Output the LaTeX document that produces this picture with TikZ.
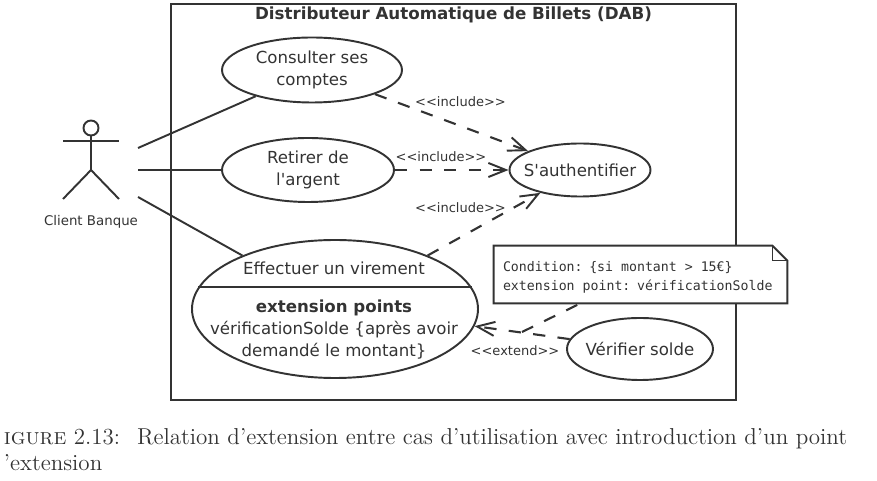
\documentclass[tikz,border=0pt]{standalone}
\usepackage{fontspec}
\newfontfamily\umlfont{DejaVu Sans}
\newfontfamily\notefont{DejaVu Sans Mono}
\usepackage{xcolor}
\usetikzlibrary{arrows.meta,calc,positioning,shapes.geometric}
\definecolor{inkc}{HTML}{333333}
\tikzset{%
	usecase/.style  = {draw=inkc, ellipse, line width=1.1pt, inner xsep=-6pt, inner ysep=0pt, align=center, font=\umlfont\fontsize{9.45}{12.5}\selectfont, text=inkc},
	system/.style   = {draw=inkc, rectangle, line width=1.1pt, inner sep=0pt},
	stereo/.style   = {font=\umlfont\fontsize{7.4}{9}\selectfont, text=inkc, inner sep=0pt}, % <<...>>
	notebox/.style  = {fill=white, rectangle, inner sep=0pt, align=left, font=\notefont\fontsize{7.53}{10.8}\selectfont, text=inkc},
	assoc/.style    = {draw=inkc, line width=1.1pt},
	depend/.style   = {draw=inkc, line width=1.2pt, dash pattern=on 7pt off 7pt, -{Straight Barb[length=10pt,width=8pt,line width=1.1pt]}},
	waypoint/.style = {coordinate},
}

\begin{document}
\begin{tikzpicture}[node distance=2.0cm,auto]
	\useasboundingbox (0,0) rectangle (17.54,-9.62);
	\node [system,minimum width=11.3cm,minimum height=7.92cm] (dab) at (9.07,-4.04) {};
	\node [inner sep=0pt,font=\umlfont\bfseries\fontsize{9.5}{12}\selectfont,text=inkc] (title) at (9.07,-0.29) {Distributeur Automatique de Billets (DAB)};

	% use cases
	\node [usecase,minimum width=3.44cm,minimum height=1.28cm] (retirer) at (6.16,-3.40) {Retirer de\\l'argent};
	\node [usecase,minimum width=3.6cm,minimum height=1.3cm,xshift=0.08cm] (consulter) [above of=retirer,node distance=2.0cm] {Consulter ses\\comptes};
	\node [usecase,minimum width=2.82cm,minimum height=1.06cm] (auth) [right of=retirer,node distance=5.44cm] {S'authentifier};
	\node [usecase,minimum width=5.72cm,minimum height=2.76cm,xshift=0.54cm] (virement) [below of=retirer,node distance=2.78cm] {};
	\node [usecase,minimum width=2.92cm,minimum height=1.24cm,xshift=1.2cm] (verifier) [below of=auth,node distance=3.58cm] {V\'erifier solde};

	\node [font=\umlfont\fontsize{9.45}{12.5}\selectfont,text=inkc,inner sep=0pt] (effectuer) at (6.68,-5.36) {Effectuer un virement};
	\node [align=center,font=\umlfont\fontsize{9.45}{12.5}\selectfont,text=inkc,inner sep=0pt] (points) at (6.68,-6.6) {\textbf{extension points}\\v\'erificationSolde \{apr\`es avoir\\demand\'e le montant\}};
	\draw [assoc] (virement.171) -- (virement.9);

	% actor
	\node [draw=inkc,circle,line width=1.1pt,minimum size=0.3cm,inner sep=0pt] (head) at (1.82,-2.56) {};
	\node [waypoint] (neck) at (1.82,-2.82) {};
	\node [waypoint] (armL) [left of=neck,node distance=0.56cm] {};
	\node [waypoint] (armR) [right of=neck,node distance=0.56cm] {};
	\node [waypoint] (hip) [below of=neck,node distance=0.58cm] {};
	\node [waypoint] (footL) at (1.26,-3.98) {};
	\node [waypoint] (footR) at (2.38,-3.98) {};
	\node [font=\umlfont\fontsize{7.6}{9}\selectfont,text=inkc,inner sep=0pt] (client) at (1.82,-4.44) {Client Banque};
	\draw [assoc] (head) -- (hip);
	\draw [assoc] (armL) -- (armR);
	\draw [assoc] (footL) -- (hip) -- (footR);

	\node [waypoint] (a1) at (2.76,-2.96) {};
	\node [waypoint] (a2) at (2.76,-3.40) {};
	\node [waypoint] (a3) at (2.76,-3.94) {};
	\draw [assoc] (a1) -- (consulter.-155);
	\draw [assoc] (a2) -- (retirer);
	\draw [assoc] (a3) -- (virement.150);

	% include
	\draw [depend] (consulter.-21) -- (auth.160);
	\draw [depend] (retirer) -- (auth);
	\draw [depend] (virement.30) -- (auth.-150);
	\node [stereo] (inc1) at (9.21,-2.04) {<{}<include>{}>};
	\node [stereo] (inc2) at (8.82,-3.14) {<{}<include>{}>};
	\node [stereo] (inc3) at (9.21,-4.16) {<{}<include>{}>};

	% extend and note
	\draw [depend] (verifier.172) -- (virement.-7);
	\node [stereo] (ext) at (10.3,-7.02) {<{}<extend>{}>};
	\node [notebox,minimum width=5.86cm,minimum height=1.14cm,text width=5.5cm] (note) at (12.81,-5.49) {\spaceskip=4.53pt\relax\rule{0pt}{9.5pt}Condition: \{si montant > 15€\}\\extension point: v\'erificationSolde};
	\coordinate (fold) at ($(note.north east)+(-0.3,0)$);
	\coordinate (foldb) at ($(note.north east)+(0,-0.3)$);
	\draw [assoc] (note.north west) -- (fold) -- (foldb) -- (note.south east) -- (note.south west) -- cycle;
	\draw [draw=inkc,line width=0.7pt] (fold) |- (foldb);
	\coordinate (joint) at (10.44,-6.64);
	\draw [draw=inkc,line width=1.2pt,dash pattern=on 7pt off 7pt] (joint) -- ($(note.south)+(-1.2,0)$);

	% caption
	\node [anchor=north west,inner sep=0pt,align=left,font=\fontsize{13.1}{14.8}\selectfont,text=inkc] (caption) at (0.07,-8.56) {\textsc{igure} 2.13:\ \ \hspace{1pt}Relation d'extension entre cas d'utilisation avec introduction d'un point\\'extension};
\end{tikzpicture}
\end{document}
